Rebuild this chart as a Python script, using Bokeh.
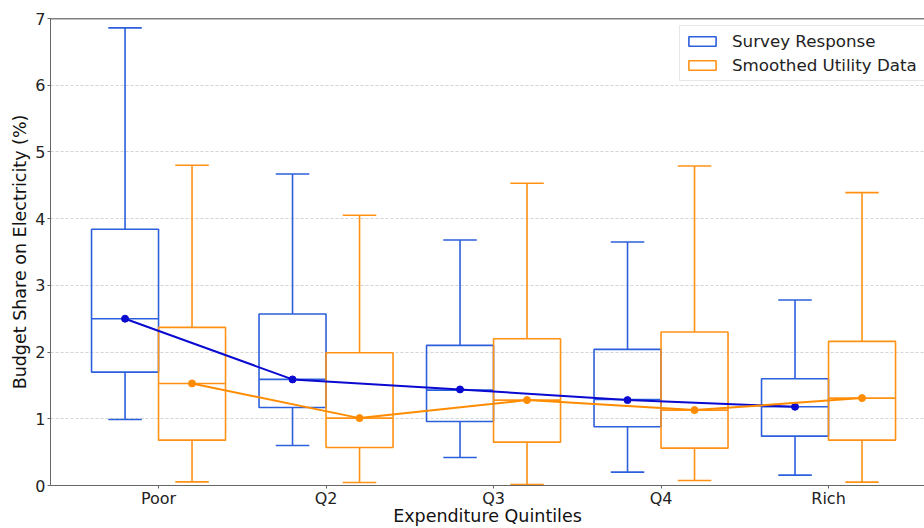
from bokeh.plotting import figure
from bokeh.models import (Range1d, FixedTicker, Legend, LegendItem, Span,
                          ColumnDataSource)
from bokeh.embed import file_html
from bokeh.resources import INLINE

# ---- data ----
categories = ["Poor", "Q2", "Q3", "Q4", "Rich"]

survey_whisker_low = [0.99, 0.60, 0.42, 0.20, 0.155]
survey_q1 = [1.70, 1.17, 0.96, 0.88, 0.74]
survey_median = [2.50, 1.59, 1.43, 1.29, 1.18]
survey_q3 = [3.84, 2.57, 2.10, 2.04, 1.60]
survey_whisker_high = [6.86, 4.67, 3.68, 3.65, 2.78]
survey_mean = [2.50, 1.59, 1.44, 1.28, 1.18]

utility_whisker_low = [0.055, 0.045, 0.015, 0.075, 0.05]
utility_q1 = [0.68, 0.57, 0.65, 0.56, 0.68]
utility_median = [1.53, 1.01, 1.28, 1.13, 1.31]
utility_q3 = [2.37, 1.99, 2.20, 2.30, 2.16]
utility_whisker_high = [4.80, 4.05, 4.53, 4.79, 4.39]
utility_mean = [1.53, 1.01, 1.28, 1.13, 1.31]

BLUE_BOX = "#2c5fdc"
BLUE_LINE = "#0a0ad0"
ORANGE_BOX = "#ff9214"
ORANGE_LINE = "#ff8c00"
FONT = "DejaVu Sans"

p = figure(width=924, height=528, output_backend="svg", toolbar_location=None,
           x_range=Range1d(-0.645, 4.573), y_range=Range1d(0, 7),
           min_border_left=50, min_border_right=0, min_border_top=18,
           min_border_bottom=43)
p.outline_line_color = None
p.background_fill_color = "white"
p.border_fill_color = "white"

# axes
p.xaxis.ticker = FixedTicker(ticks=list(range(len(categories))))
p.xaxis.major_label_overrides = {i: c for i, c in enumerate(categories)}
p.yaxis.ticker = FixedTicker(ticks=list(range(0, 8)))
for ax in (p.xaxis, p.yaxis):
    ax.major_label_text_font = FONT
    ax.major_label_text_font_size = "16px"
    ax.major_label_text_color = "#222222"
    ax.axis_line_color = "#666666"
    ax.major_tick_line_color = "#666666"
    ax.major_tick_out = 3
    ax.major_tick_in = 0
    ax.minor_tick_line_color = None
    ax.axis_label_text_font = FONT
    ax.axis_label_text_font_size = "17.5px"
    ax.axis_label_text_font_style = "normal"
    ax.axis_label_text_color = "#111111"
p.xaxis.major_label_standoff = 0
p.yaxis.major_label_standoff = 2
p.xaxis.axis_label = "Expenditure Quintiles"
p.yaxis.axis_label = "Budget Share on Electricity (%)"
p.xaxis.axis_label_standoff = -5
p.yaxis.axis_label_standoff = 2

p.xgrid.grid_line_color = None
p.ygrid.ticker = FixedTicker(ticks=[1, 2, 3, 4, 5, 6])
p.ygrid.grid_line_color = "#d4d4d4"
p.ygrid.grid_line_dash = "3 2"
p.ygrid.grid_line_width = 1

# top spine
p.add_layout(Span(location=7, dimension="width", line_color="black", line_width=1.3))

offset = 0.2
half = 0.2
cap = 0.1


def draw(xc_shift, wl, q1, med, q3, wh, mean, box_color):
    xs = [i + xc_shift for i in range(len(categories))]
    src = ColumnDataSource(dict(x=xs, left=[x - half for x in xs], right=[x + half for x in xs],
                                q1=q1, q3=q3, med=med, wl=wl, wh=wh,
                                cl=[x - cap for x in xs], cr=[x + cap for x in xs], mean=mean))
    box = p.quad(left="left", right="right", bottom="q1", top="q3", source=src,
                 fill_color=None, line_color=box_color, line_width=1.6)
    p.segment(x0="x", y0="q3", x1="x", y1="wh", source=src, line_color=box_color, line_width=1.6)
    p.segment(x0="x", y0="q1", x1="x", y1="wl", source=src, line_color=box_color, line_width=1.6)
    p.segment(x0="cl", y0="wh", x1="cr", y1="wh", source=src, line_color=box_color, line_width=1.6)
    p.segment(x0="cl", y0="wl", x1="cr", y1="wl", source=src, line_color=box_color, line_width=1.6)
    p.segment(x0="left", y0="med", x1="right", y1="med", source=src, line_color=box_color, line_width=1.6)
    return box, src


blue_box, blue_src = draw(-offset, survey_whisker_low, survey_q1, survey_median, survey_q3,
                          survey_whisker_high, survey_mean, BLUE_BOX)
orange_box, orange_src = draw(offset, utility_whisker_low, utility_q1, utility_median, utility_q3,
                              utility_whisker_high, utility_mean, ORANGE_BOX)

p.line(x="x", y="mean", source=blue_src, line_color=BLUE_LINE, line_width=2)
p.scatter(x="x", y="mean", source=blue_src, size=7, fill_color=BLUE_LINE, line_color=BLUE_LINE)
p.line(x="x", y="mean", source=orange_src, line_color=ORANGE_LINE, line_width=2)
p.scatter(x="x", y="mean", source=orange_src, size=7, fill_color=ORANGE_LINE, line_color=ORANGE_LINE)

legend = Legend(items=[LegendItem(label="Survey Response", renderers=[blue_box]),
                       LegendItem(label="Smoothed Utility Data", renderers=[orange_box])],
                location=(629, 404), glyph_width=34, glyph_height=12, label_standoff=13,
                label_text_font=FONT, label_text_font_size="16.7px", label_text_color="#222222",
                padding=5, spacing=4, margin=0, label_height=20, label_width=200,
                border_line_color="#d0d0d0", border_line_width=1,
                background_fill_color="white", background_fill_alpha=0.85)
p.add_layout(legend)

open("out.html", "w").write(file_html(p, INLINE))
